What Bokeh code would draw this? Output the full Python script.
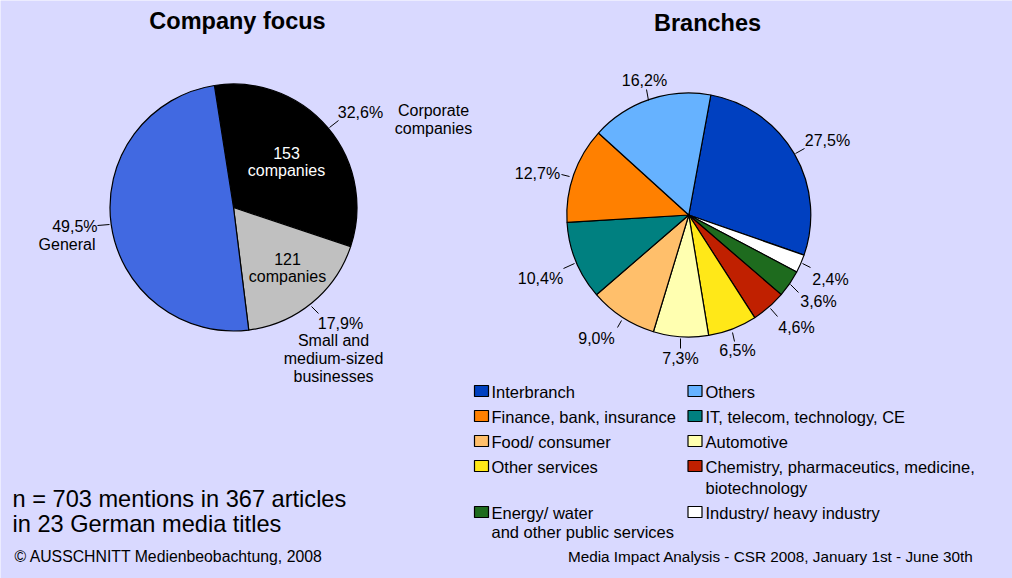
import numpy as np
from bokeh.plotting import figure
from bokeh.models import ColumnDataSource, Range1d
from bokeh.core.properties import value
from bokeh.embed import file_html
from bokeh.resources import INLINE

# ---------------- data ----------------
focus_names = ["Corporate companies", "Small and medium-sized businesses", "General"]
focus_values = [32.6, 17.9, 49.5]
focus_colors = ["#000000", "#C0C0C0", "#4169E1"]
focus_pct_labels = ["32,6%", "17,9%", "49,5%"]

branch_names = ["Interbranch", "Industry/ heavy industry",
                "Energy/ water and other public services",
                "Chemistry, pharmaceutics, medicine, biotechnology",
                "Other services", "Automotive", "Food/ consumer",
                "IT, telecom, technology, CE", "Finance, bank, insurance", "Others"]
branch_values = [27.5, 2.4, 3.6, 4.6, 6.5, 7.3, 9.0, 10.4, 12.7, 16.2]
branch_colors = ["#0040C0", "#FFFFFF", "#1E6B1E", "#C02000", "#FFE818",
                 "#FFFFB0", "#FFBF6B", "#008080", "#FF8000", "#66B2FF"]
branch_pct_labels = ["27,5%", "2,4%", "3,6%", "4,6%", "6,5%", "7,3%", "9,0%",
                     "10,4%", "12,7%", "16,2%"]

legend_rows = [
    (["Interbranch"], ["Others"]),
    (["Finance, bank, insurance"], ["IT, telecom, technology, CE"]),
    (["Food/ consumer"], ["Automotive"]),
    (["Other services"], ["Chemistry, pharmaceutics, medicine,", "biotechnology"]),
    (["Energy/ water", "and other public services"], ["Industry/ heavy industry"]),
]
legend_color_keys = [
    ("Interbranch", "Others"),
    ("Finance, bank, insurance", "IT, telecom, technology, CE"),
    ("Food/ consumer", "Automotive"),
    ("Other services", "Chemistry, pharmaceutics, medicine, biotechnology"),
    ("Energy/ water and other public services", "Industry/ heavy industry"),
]

BG = "#D9D9FF"
FONT = value("Liberation Sans")
W, H = 1012, 578


def Y(v):
    return H - v


p = figure(width=W, height=H, output_backend="svg", toolbar_location=None,
           x_range=Range1d(0, W), y_range=Range1d(0, H),
           min_border=0, background_fill_color=BG, border_fill_color=BG)
p.axis.visible = False
p.grid.visible = False
p.outline_line_color = None


def pie(cx, cy, r, values, colors, start_cw_deg):
    vals = np.array(values, dtype=float)
    frac = vals / vals.sum() * 360.0
    ends_cw = start_cw_deg + np.cumsum(frac)
    starts_cw = ends_cw - frac
    src = ColumnDataSource(dict(
        start=np.radians(90.0 - ends_cw),
        end=np.radians(90.0 - starts_cw),
        color=colors))
    p.wedge(x=cx, y=Y(cy), radius=r, start_angle="start", end_angle="end",
            direction="anticlock", fill_color="color", line_color="black",
            line_width=1.2, source=src)


pie(233, 207, 123.5, focus_values, focus_colors, -8.9)
pie(688.3, 214.5, 122, branch_values, branch_colors, 10.4)


def txt(x, y, s, size="16px", color="#000000", align="center", bold=False):
    p.text(x=[x], y=[Y(y)], text=[s], text_font=FONT, text_font_size=size,
           text_color=color, text_align=align, text_baseline="middle",
           text_font_style="bold" if bold else "normal")


def seg(x0, y0, x1, y1):
    p.segment(x0=[x0], y0=[Y(y0)], x1=[x1], y1=[Y(y1)], line_color="black",
              line_width=1)


# titles
txt(237, 20, "Company focus", size="23.5px", bold=True)
txt(707, 22, "Branches", size="23.5px", bold=True)

# left pie labels
txt(360, 112, focus_pct_labels[0])
seg(329, 127, 338, 120)
txt(433, 110, "Corporate")
txt(433, 128, "companies")
txt(286, 152, "153", color="#FFFFFF")
txt(286, 170, "companies", color="#FFFFFF")
txt(287, 258, "121")
txt(287, 276, "companies")
txt(340, 323, focus_pct_labels[1])
seg(311, 306, 318, 313)
txt(333, 340, "Small and")
txt(333, 358, "medium-sized")
txt(333, 376, "businesses")
txt(97, 226, focus_pct_labels[2], align="right")
seg(97, 225, 109, 224)
txt(95, 244, "General", align="right")

# right pie labels
right_pos = [(827, 140), (830, 279), (818, 301), (796, 327), (737, 350),
             (680, 358), (596, 338), (540, 278), (537, 173), (644, 80)]
right_lead = [(795, 153, 804, 148), (802, 263, 810, 267), (790, 284, 798, 292),
              (770, 308, 777, 316), (734, 341, 732, 332), (680, 348, 680, 338),
              (617, 327, 621, 320), (563, 268, 574, 263), (561, 174, 569, 176),
              (648, 100, 646, 89)]
for lab, (x, y), (a, b, c, d) in zip(branch_pct_labels, right_pos, right_lead):
    txt(x, y, lab)
    seg(a, b, c, d)

# legend
cmap = dict(zip(branch_names, branch_colors))
row_y = [391, 416, 441, 466, 512]
row_gap = [20, 20, 20, 21, 19]
col_sq = [481, 694.5]
col_tx = [491, 705]
for ri, (pair, keys) in enumerate(zip(legend_rows, legend_color_keys)):
    for ci in range(2):
        lines = pair[ci]
        p.rect(x=[col_sq[ci]], y=[Y(row_y[ri] - 0.5)], width=14, height=11,
               fill_color=cmap[keys[ci]], line_color="#000000", line_width=1.2)
        for li, line in enumerate(lines):
            txt(col_tx[ci], row_y[ri] + li * row_gap[ri], line, size="16.5px",
                align="left")

# notes
txt(12, 498, "n = 703 mentions in 367 articles", size="23.6px", align="left")
txt(12, 523, "in 23 German media titles", size="23.6px", align="left")
txt(14, 556, "© AUSSCHNITT Medienbeobachtung, 2008", size="15.8px", align="left")
txt(973, 556, "Media Impact Analysis - CSR 2008, January 1st - June 30th", size="15.3px",
    align="right")

open("out.html", "w").write(file_html(p, INLINE))
